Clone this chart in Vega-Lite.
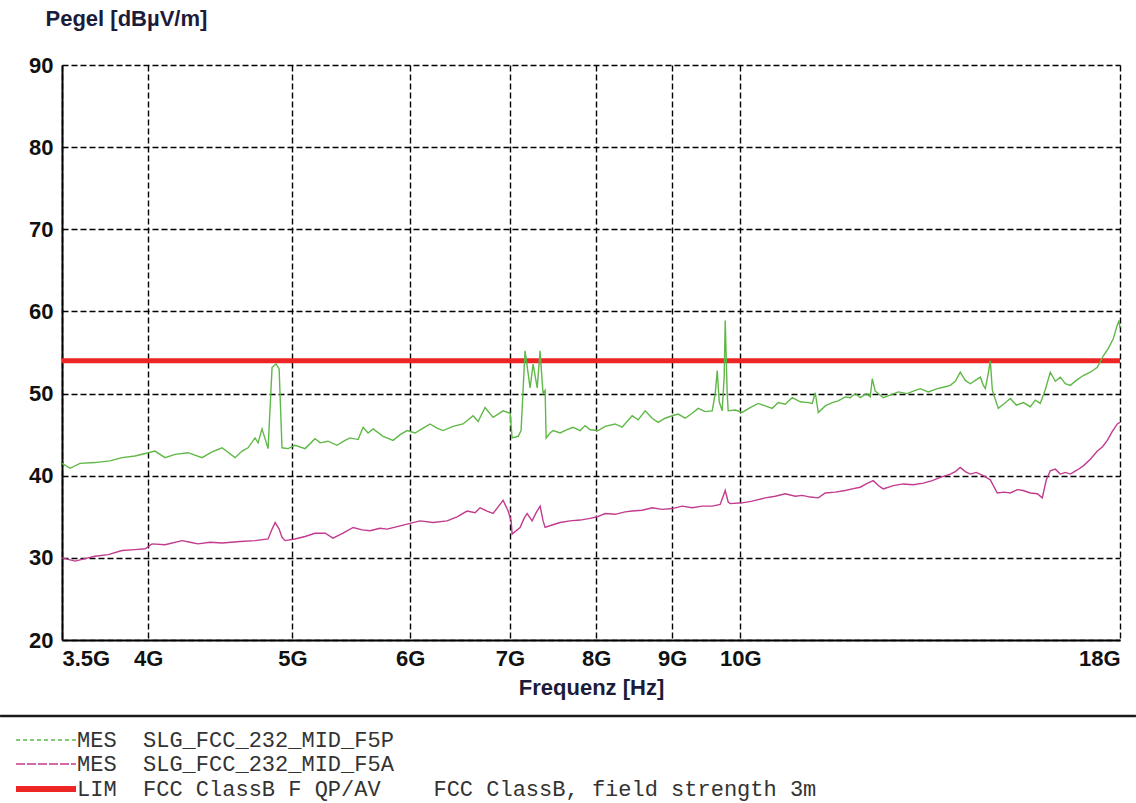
{
  "$schema": "https://vega.github.io/schema/vega-lite/v6.json",
  "width": 1058,
  "height": 575,
  "autosize": {"type": "none"},
  "padding": {"left": 62, "top": 65, "right": 16, "bottom": 163},
  "background": "white",
  "config": {"view": {"stroke": null}, "font": "Liberation Sans"},
  "data": {"values": [
    {"f":3.5,"v":54,"s":"L"},{"f":18,"v":54,"s":"L"},
    {"f":3.5,"v":41.5,"s":"P"},{"f":3.544,"v":40.9,"s":"P"},{"f":3.599,"v":41.5,"s":"P"},{"f":3.683,"v":41.6,"s":"P"},{"f":3.77,"v":41.8,"s":"P"},{"f":3.841,"v":42.2,"s":"P"},{"f":3.919,"v":42.4,"s":"P"},{"f":3.981,"v":42.7,"s":"P"},{"f":4.042,"v":43.0,"s":"P"},{"f":4.105,"v":42.2,"s":"P"},{"f":4.169,"v":42.6,"s":"P"},{"f":4.254,"v":42.8,"s":"P"},{"f":4.347,"v":42.2,"s":"P"},{"f":4.415,"v":42.9,"s":"P"},{"f":4.484,"v":43.4,"s":"P"},{"f":4.575,"v":42.2,"s":"P"},{"f":4.625,"v":43.0,"s":"P"},{"f":4.668,"v":43.4,"s":"P"},{"f":4.719,"v":44.6,"s":"P"},{"f":4.741,"v":44.0,"s":"P"},{"f":4.77,"v":45.7,"s":"P"},{"f":4.815,"v":43.3,"s":"P"},{"f":4.845,"v":53.2,"s":"P"},{"f":4.875,"v":53.6,"s":"P"},{"f":4.898,"v":53.0,"s":"P"},{"f":4.92,"v":43.4,"s":"P"},{"f":4.966,"v":43.3,"s":"P"},{"f":5.02,"v":43.7,"s":"P"},{"f":5.099,"v":43.3,"s":"P"},{"f":5.178,"v":44.5,"s":"P"},{"f":5.219,"v":44.0,"s":"P"},{"f":5.283,"v":44.2,"s":"P"},{"f":5.357,"v":43.7,"s":"P"},{"f":5.424,"v":44.3,"s":"P"},{"f":5.467,"v":44.6,"s":"P"},{"f":5.535,"v":44.4,"s":"P"},{"f":5.578,"v":45.9,"s":"P"},{"f":5.621,"v":45.2,"s":"P"},{"f":5.665,"v":45.7,"s":"P"},{"f":5.753,"v":44.8,"s":"P"},{"f":5.843,"v":44.3,"s":"P"},{"f":5.907,"v":45.0,"s":"P"},{"f":5.971,"v":45.5,"s":"P"},{"f":6.045,"v":45.2,"s":"P"},{"f":6.121,"v":45.8,"s":"P"},{"f":6.187,"v":46.3,"s":"P"},{"f":6.254,"v":45.8,"s":"P"},{"f":6.313,"v":45.5,"s":"P"},{"f":6.411,"v":46.0,"s":"P"},{"f":6.511,"v":46.3,"s":"P"},{"f":6.613,"v":47.3,"s":"P"},{"f":6.665,"v":46.6,"s":"P"},{"f":6.737,"v":48.3,"s":"P"},{"f":6.821,"v":47.1,"s":"P"},{"f":6.874,"v":47.5,"s":"P"},{"f":6.928,"v":47.9,"s":"P"},{"f":7.003,"v":47.6,"s":"P"},{"f":7.025,"v":44.6,"s":"P"},{"f":7.091,"v":44.8,"s":"P"},{"f":7.123,"v":45.5,"s":"P"},{"f":7.145,"v":50.4,"s":"P"},{"f":7.167,"v":55.2,"s":"P"},{"f":7.201,"v":52.5,"s":"P"},{"f":7.223,"v":50.7,"s":"P"},{"f":7.257,"v":53.6,"s":"P"},{"f":7.303,"v":50.7,"s":"P"},{"f":7.336,"v":55.2,"s":"P"},{"f":7.359,"v":51.5,"s":"P"},{"f":7.37,"v":50.0,"s":"P"},{"f":7.393,"v":50.4,"s":"P"},{"f":7.405,"v":44.6,"s":"P"},{"f":7.45,"v":45.2,"s":"P"},{"f":7.485,"v":45.5,"s":"P"},{"f":7.566,"v":45.2,"s":"P"},{"f":7.649,"v":45.6,"s":"P"},{"f":7.721,"v":45.9,"s":"P"},{"f":7.805,"v":45.5,"s":"P"},{"f":7.866,"v":46.1,"s":"P"},{"f":7.926,"v":45.6,"s":"P"},{"f":8.025,"v":45.5,"s":"P"},{"f":8.113,"v":46.0,"s":"P"},{"f":8.239,"v":46.3,"s":"P"},{"f":8.329,"v":45.9,"s":"P"},{"f":8.459,"v":47.3,"s":"P"},{"f":8.538,"v":46.8,"s":"P"},{"f":8.631,"v":47.9,"s":"P"},{"f":8.725,"v":47.0,"s":"P"},{"f":8.807,"v":46.5,"s":"P"},{"f":8.902,"v":47.0,"s":"P"},{"f":9.0,"v":47.3,"s":"P"},{"f":9.084,"v":47.5,"s":"P"},{"f":9.183,"v":47.0,"s":"P"},{"f":9.283,"v":47.6,"s":"P"},{"f":9.37,"v":48.2,"s":"P"},{"f":9.472,"v":47.8,"s":"P"},{"f":9.575,"v":47.9,"s":"P"},{"f":9.62,"v":50.0,"s":"P"},{"f":9.65,"v":52.8,"s":"P"},{"f":9.68,"v":49.0,"s":"P"},{"f":9.724,"v":47.9,"s":"P"},{"f":9.754,"v":52.0,"s":"P"},{"f":9.77,"v":58.9,"s":"P"},{"f":9.8,"v":50.0,"s":"P"},{"f":9.815,"v":47.9,"s":"P"},{"f":9.922,"v":48.0,"s":"P"},{"f":10.03,"v":47.7,"s":"P"},{"f":10.155,"v":48.3,"s":"P"},{"f":10.282,"v":48.8,"s":"P"},{"f":10.394,"v":48.5,"s":"P"},{"f":10.507,"v":48.2,"s":"P"},{"f":10.605,"v":48.9,"s":"P"},{"f":10.721,"v":48.7,"s":"P"},{"f":10.838,"v":49.5,"s":"P"},{"f":10.973,"v":49.0,"s":"P"},{"f":11.11,"v":48.9,"s":"P"},{"f":11.179,"v":48.8,"s":"P"},{"f":11.231,"v":50.1,"s":"P"},{"f":11.284,"v":47.7,"s":"P"},{"f":11.406,"v":48.5,"s":"P"},{"f":11.53,"v":48.9,"s":"P"},{"f":11.638,"v":49.1,"s":"P"},{"f":11.765,"v":49.6,"s":"P"},{"f":11.856,"v":49.5,"s":"P"},{"f":11.949,"v":50.0,"s":"P"},{"f":12.04,"v":49.5,"s":"P"},{"f":12.153,"v":50.0,"s":"P"},{"f":12.229,"v":49.6,"s":"P"},{"f":12.267,"v":51.8,"s":"P"},{"f":12.324,"v":50.3,"s":"P"},{"f":12.363,"v":50.1,"s":"P"},{"f":12.477,"v":49.5,"s":"P"},{"f":12.614,"v":49.8,"s":"P"},{"f":12.771,"v":50.2,"s":"P"},{"f":12.95,"v":50.0,"s":"P"},{"f":13.071,"v":50.3,"s":"P"},{"f":13.213,"v":50.6,"s":"P"},{"f":13.378,"v":50.2,"s":"P"},{"f":13.566,"v":50.6,"s":"P"},{"f":13.714,"v":50.8,"s":"P"},{"f":13.841,"v":51.0,"s":"P"},{"f":13.949,"v":51.5,"s":"P"},{"f":14.057,"v":52.6,"s":"P"},{"f":14.167,"v":51.6,"s":"P"},{"f":14.277,"v":51.2,"s":"P"},{"f":14.388,"v":51.6,"s":"P"},{"f":14.5,"v":52.0,"s":"P"},{"f":14.568,"v":51.0,"s":"P"},{"f":14.613,"v":50.6,"s":"P"},{"f":14.681,"v":52.5,"s":"P"},{"f":14.726,"v":54.0,"s":"P"},{"f":14.772,"v":50.5,"s":"P"},{"f":14.795,"v":50.0,"s":"P"},{"f":14.91,"v":48.2,"s":"P"},{"f":15.049,"v":48.8,"s":"P"},{"f":15.189,"v":49.4,"s":"P"},{"f":15.331,"v":48.6,"s":"P"},{"f":15.498,"v":48.9,"s":"P"},{"f":15.666,"v":48.4,"s":"P"},{"f":15.789,"v":49.2,"s":"P"},{"f":15.91,"v":48.8,"s":"P"},{"f":16.035,"v":50.5,"s":"P"},{"f":16.159,"v":52.6,"s":"P"},{"f":16.285,"v":51.5,"s":"P"},{"f":16.411,"v":52.0,"s":"P"},{"f":16.539,"v":51.2,"s":"P"},{"f":16.667,"v":51.0,"s":"P"},{"f":16.823,"v":51.6,"s":"P"},{"f":17.006,"v":52.2,"s":"P"},{"f":17.192,"v":52.6,"s":"P"},{"f":17.38,"v":53.2,"s":"P"},{"f":17.541,"v":54.6,"s":"P"},{"f":17.678,"v":55.5,"s":"P"},{"f":17.815,"v":56.7,"s":"P"},{"f":17.9,"v":58.0,"s":"P"},{"f":17.97,"v":58.9,"s":"P"},{"f":18.0,"v":58.0,"s":"P"},
    {"f":3.5,"v":30.0,"s":"A"},{"f":3.572,"v":29.6,"s":"A"},{"f":3.627,"v":29.9,"s":"A"},{"f":3.683,"v":30.2,"s":"A"},{"f":3.759,"v":30.4,"s":"A"},{"f":3.841,"v":30.9,"s":"A"},{"f":3.919,"v":31.0,"s":"A"},{"f":3.981,"v":31.1,"s":"A"},{"f":4.023,"v":31.7,"s":"A"},{"f":4.105,"v":31.6,"s":"A"},{"f":4.215,"v":32.1,"s":"A"},{"f":4.268,"v":31.9,"s":"A"},{"f":4.32,"v":31.7,"s":"A"},{"f":4.401,"v":31.9,"s":"A"},{"f":4.484,"v":31.8,"s":"A"},{"f":4.611,"v":32.0,"s":"A"},{"f":4.719,"v":32.1,"s":"A"},{"f":4.815,"v":32.3,"s":"A"},{"f":4.845,"v":33.5,"s":"A"},{"f":4.868,"v":34.3,"s":"A"},{"f":4.898,"v":33.5,"s":"A"},{"f":4.92,"v":32.5,"s":"A"},{"f":4.943,"v":32.1,"s":"A"},{"f":5.02,"v":32.3,"s":"A"},{"f":5.099,"v":32.6,"s":"A"},{"f":5.178,"v":33.0,"s":"A"},{"f":5.26,"v":33.0,"s":"A"},{"f":5.324,"v":32.4,"s":"A"},{"f":5.407,"v":33.0,"s":"A"},{"f":5.493,"v":33.7,"s":"A"},{"f":5.569,"v":33.4,"s":"A"},{"f":5.638,"v":33.3,"s":"A"},{"f":5.726,"v":33.6,"s":"A"},{"f":5.789,"v":33.5,"s":"A"},{"f":5.88,"v":33.8,"s":"A"},{"f":5.971,"v":34.1,"s":"A"},{"f":6.092,"v":34.5,"s":"A"},{"f":6.216,"v":34.3,"s":"A"},{"f":6.352,"v":34.5,"s":"A"},{"f":6.451,"v":35.0,"s":"A"},{"f":6.552,"v":35.7,"s":"A"},{"f":6.634,"v":35.5,"s":"A"},{"f":6.685,"v":36.1,"s":"A"},{"f":6.758,"v":35.7,"s":"A"},{"f":6.821,"v":35.4,"s":"A"},{"f":6.874,"v":36.2,"s":"A"},{"f":6.928,"v":37.0,"s":"A"},{"f":6.982,"v":35.7,"s":"A"},{"f":7.014,"v":34.5,"s":"A"},{"f":7.025,"v":32.9,"s":"A"},{"f":7.112,"v":33.7,"s":"A"},{"f":7.156,"v":34.8,"s":"A"},{"f":7.19,"v":35.4,"s":"A"},{"f":7.246,"v":34.5,"s":"A"},{"f":7.291,"v":35.5,"s":"A"},{"f":7.336,"v":36.3,"s":"A"},{"f":7.37,"v":34.5,"s":"A"},{"f":7.393,"v":33.7,"s":"A"},{"f":7.473,"v":34.0,"s":"A"},{"f":7.566,"v":34.3,"s":"A"},{"f":7.685,"v":34.5,"s":"A"},{"f":7.805,"v":34.6,"s":"A"},{"f":7.926,"v":34.8,"s":"A"},{"f":8.013,"v":35.0,"s":"A"},{"f":8.113,"v":35.4,"s":"A"},{"f":8.239,"v":35.3,"s":"A"},{"f":8.368,"v":35.6,"s":"A"},{"f":8.459,"v":35.7,"s":"A"},{"f":8.591,"v":35.8,"s":"A"},{"f":8.725,"v":36.1,"s":"A"},{"f":8.861,"v":35.9,"s":"A"},{"f":9.0,"v":36.0,"s":"A"},{"f":9.14,"v":36.3,"s":"A"},{"f":9.283,"v":36.1,"s":"A"},{"f":9.428,"v":36.3,"s":"A"},{"f":9.575,"v":36.3,"s":"A"},{"f":9.694,"v":36.5,"s":"A"},{"f":9.739,"v":37.5,"s":"A"},{"f":9.77,"v":38.2,"s":"A"},{"f":9.815,"v":36.8,"s":"A"},{"f":9.845,"v":36.6,"s":"A"},{"f":10.03,"v":36.7,"s":"A"},{"f":10.187,"v":36.9,"s":"A"},{"f":10.394,"v":37.3,"s":"A"},{"f":10.556,"v":37.5,"s":"A"},{"f":10.721,"v":37.8,"s":"A"},{"f":10.889,"v":37.5,"s":"A"},{"f":11.007,"v":37.6,"s":"A"},{"f":11.144,"v":37.4,"s":"A"},{"f":11.284,"v":37.3,"s":"A"},{"f":11.406,"v":37.9,"s":"A"},{"f":11.584,"v":38.0,"s":"A"},{"f":11.765,"v":38.2,"s":"A"},{"f":11.893,"v":38.4,"s":"A"},{"f":12.04,"v":38.6,"s":"A"},{"f":12.153,"v":39.0,"s":"A"},{"f":12.286,"v":39.4,"s":"A"},{"f":12.382,"v":38.8,"s":"A"},{"f":12.477,"v":38.4,"s":"A"},{"f":12.673,"v":38.8,"s":"A"},{"f":12.87,"v":39.0,"s":"A"},{"f":13.071,"v":38.9,"s":"A"},{"f":13.275,"v":39.1,"s":"A"},{"f":13.461,"v":39.4,"s":"A"},{"f":13.629,"v":39.8,"s":"A"},{"f":13.841,"v":40.2,"s":"A"},{"f":13.949,"v":40.5,"s":"A"},{"f":14.057,"v":41.0,"s":"A"},{"f":14.167,"v":40.5,"s":"A"},{"f":14.277,"v":40.2,"s":"A"},{"f":14.41,"v":40.4,"s":"A"},{"f":14.568,"v":40.0,"s":"A"},{"f":14.726,"v":39.5,"s":"A"},{"f":14.887,"v":37.9,"s":"A"},{"f":15.049,"v":38.0,"s":"A"},{"f":15.189,"v":37.9,"s":"A"},{"f":15.355,"v":38.3,"s":"A"},{"f":15.498,"v":38.2,"s":"A"},{"f":15.666,"v":37.9,"s":"A"},{"f":15.838,"v":37.8,"s":"A"},{"f":15.96,"v":37.3,"s":"A"},{"f":16.06,"v":39.5,"s":"A"},{"f":16.159,"v":40.6,"s":"A"},{"f":16.285,"v":40.8,"s":"A"},{"f":16.411,"v":40.2,"s":"A"},{"f":16.539,"v":40.4,"s":"A"},{"f":16.667,"v":40.2,"s":"A"},{"f":16.849,"v":40.7,"s":"A"},{"f":17.006,"v":41.2,"s":"A"},{"f":17.192,"v":42.0,"s":"A"},{"f":17.38,"v":43.0,"s":"A"},{"f":17.514,"v":43.5,"s":"A"},{"f":17.651,"v":44.3,"s":"A"},{"f":17.787,"v":45.4,"s":"A"},{"f":17.926,"v":46.3,"s":"A"},{"f":18.0,"v":46.5,"s":"A"}
  ]},
  "layer": [
    {
      "data": {"values": [{}]},
      "mark": {"type": "rule", "clip": false, "color": "#1a1a1a", "strokeWidth": 2.5},
      "encoding": {
        "x": {"datum": 3.18, "type": "quantitative"},
        "x2": {"datum": 18.45},
        "y": {"datum": 10.75, "type": "quantitative"}
      }
    },
    {
      "transform": [{"filter": "datum.s == 'L'"}],
      "mark": {"type": "line", "strokeWidth": 5},
      "encoding": {
        "x": {"field": "f", "type": "quantitative"},
        "y": {"field": "v", "type": "quantitative"},
        "color": {"field": "s", "type": "nominal"}
      }
    },
    {
      "transform": [{"filter": "datum.s != 'L'"}],
      "mark": {"type": "line", "strokeWidth": 1.4},
      "encoding": {
        "x": {
          "field": "f", "type": "quantitative",
          "scale": {"type": "log", "domain": [3.5, 18], "nice": false},
          "axis": {
            "values": [3.5, 4, 5, 6, 7, 8, 9, 10, 18],
            "labelExpr": "datum.value + 'G'",
            "labelFlush": true,
            "labelFont": "Liberation Sans", "labelFontSize": 22, "labelFontWeight": "bold", "labelColor": "#111",
            "labelPadding": 8,
            "ticks": false,
            "domainColor": "#000", "domainWidth": 2,
            "grid": true, "gridColor": "#000", "gridDash": [6, 3], "gridWidth": 1.4, "gridOpacity": 1,
            "title": "Frequenz [Hz]",
            "titleFont": "Liberation Sans", "titleFontSize": 22, "titleFontWeight": "bold", "titleColor": "#1c1c3a",
            "titlePadding": 8
          }
        },
        "y": {
          "field": "v", "type": "quantitative",
          "scale": {"domain": [20, 90], "nice": false, "zero": false},
          "axis": {
            "values": [20, 30, 40, 50, 60, 70, 80, 90],
            "labelFont": "Liberation Sans", "labelFontSize": 22, "labelFontWeight": "bold", "labelColor": "#111",
            "labelPadding": 9,
            "ticks": false,
            "domainColor": "#000", "domainWidth": 2,
            "grid": true, "gridColor": "#000", "gridDash": [6, 3], "gridWidth": 1.4, "gridOpacity": 1,
            "title": "Pegel [dBµV/m]",
            "titleFont": "Liberation Sans", "titleFontSize": 22, "titleFontWeight": "bold", "titleColor": "#1c1c3a",
            "titleAngle": 0, "titleAlign": "left", "titleBaseline": "middle",
            "titleX": -17, "titleY": -47
          }
        },
        "color": {
          "field": "s", "type": "nominal",
          "scale": {"domain": ["P", "A", "L"], "range": ["#5fb847", "#c23b8f", "#ee2525"]},
          "legend": {
            "orient": "none", "legendX": -51, "legendY": 664, "title": null, "direction": "vertical",
            "symbolType": "M-1,0H9", "symbolSize": 144, "rowPadding": 2, "padding": 0,
            "labelFont": "Liberation Mono", "labelFontSize": 22, "labelColor": "#333", "labelLimit": 1000, "labelOffset": 44,
            "labelExpr": "datum.value == 'P' ? 'MES\u00a0\u00a0SLG_FCC_232_MID_F5P' : datum.value == 'A' ? 'MES\u00a0\u00a0SLG_FCC_232_MID_F5A' : 'LIM\u00a0\u00a0FCC\u00a0ClassB\u00a0F\u00a0QP/AV\u00a0\u00a0\u00a0\u00a0FCC\u00a0ClassB,\u00a0field\u00a0strength\u00a03m'",
            "encode": {"symbols": {"update": {
              "strokeDash": {"signal": "datum.value === 'P' ? [4,3] : datum.value === 'A' ? [9,2] : [1,0]"},
              "strokeWidth": {"signal": "datum.value === 'L' ? 6 : 1.4"},
              "opacity": {"value": 1}
            }}}
          }
        }
      }
    }
  ]
}
